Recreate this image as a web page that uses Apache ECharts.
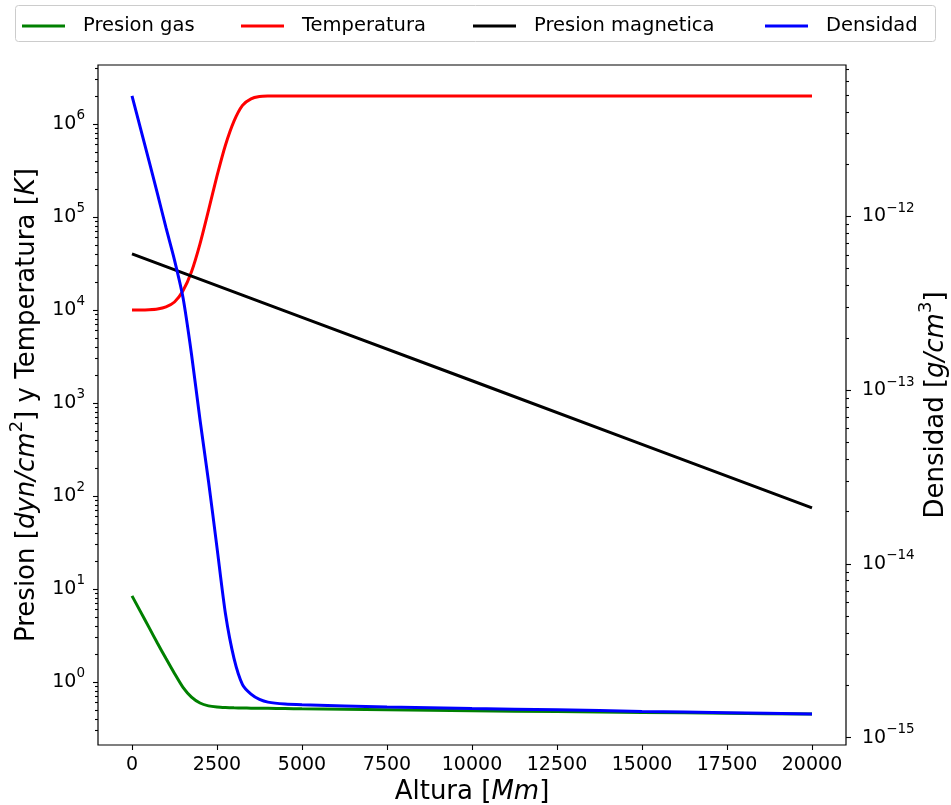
<!DOCTYPE html>
<html>
<head>
<meta charset="utf-8">
<script src="https://cdn.jsdelivr.net/npm/echarts@6/dist/echarts.min.js"></script>
<style>
  html, body { margin: 0; padding: 0; background: #fff; }
  #chart { width: 951px; height: 805px; }
</style>
</head>
<body>
<div id="chart"></div>
<script>
// Altura [Mm] sample points shared by gas pressure, temperature and density
const altura = [0, 250, 500, 750, 1000, 1250, 1500, 1750, 2000, 2250, 2500, 2750, 3000,
  3250, 3500, 3750, 4000, 4500, 5000, 7500, 10000, 12500, 15000, 17500, 20000];

// Presion gas [dyn/cm^2]
const presionGas = [8.4, 5.69, 3.85, 2.60, 1.78, 1.23, 0.871, 0.684, 0.592, 0.552, 0.536, 0.529, 0.525,
  0.523, 0.521, 0.520, 0.519, 0.516, 0.513, 0.501, 0.489, 0.479, 0.469, 0.459, 0.450];

// Temperatura [K]
const temperatura = [10000, 10000, 10050, 10230, 10790, 12160, 16030, 25700, 51300, 117500, 275400, 593000, 1072000,
  1585000, 1862000, 1972000, 1995000, 2000000, 2000000, 2000000, 2000000, 2000000, 2000000, 2000000, 2000000];

// Densidad [g/cm^3]
const densidad = [4.94e-12, 3.21e-12, 2.09e-12, 1.35e-12, 8.61e-13, 5.61e-13, 3.41e-13, 1.61e-13, 6.75e-14, 2.99e-14, 1.24e-14, 5.14e-15, 2.86e-15,
  2.02e-15, 1.78e-15, 1.66e-15, 1.60e-15, 1.56e-15, 1.545e-15, 1.50e-15, 1.47e-15, 1.445e-15, 1.415e-15, 1.39e-15, 1.365e-15];

// Presion magnetica [dyn/cm^2]
const alturaMag = [0, 5000, 10000, 15000, 20000];
const presionMag = [40000, 8300, 1730, 358, 74.3];

// Axis ticks
const xTicks = [0, 2500, 5000, 7500, 10000, 12500, 15000, 17500, 20000];
const leftDecades = [0, 1, 2, 3, 4, 5, 6];
const rightDecades = [-15, -14, -13, -12];

const seriesNames = ['Presion gas', 'Temperatura', 'Presion magnetica', 'Densidad'];
const seriesColors = ['#008000', '#ff0000', '#000000', '#0000ff'];
const seriesSmooth = [0.25, 0.25, false, 0.25];
const legendLeft = [17, 236, 468, 760];

const FONT = 'DejaVu Sans';
const lg = Math.log10;

// log-space extents with 5% padding on each side
function paddedExtent(values) {
  const lo = lg(Math.min.apply(null, values));
  const hi = lg(Math.max.apply(null, values));
  const pad = 0.05 * (hi - lo);
  return [lo - pad, hi + pad];
}
const leftExt = paddedExtent(presionGas.concat(temperatura, presionMag));
const rightExt = paddedExtent(densidad);

// minor ticks at 2..9 x 10^n inside an extent
function minorTicks(ext) {
  const out = [];
  for (let n = Math.floor(ext[0]) - 1; n <= Math.ceil(ext[1]); n++) {
    for (let k = 2; k <= 9; k++) {
      const v = n + lg(k);
      if (v >= ext[0] && v <= ext[1]) out.push(v);
    }
  }
  return out;
}

function powLabel(v) {
  const n = Math.round(v);
  const s = n < 0 ? '\u2212' + (-n) : String(n);
  return '{b|10}{s|' + s + '}';
}

const tickRich = {
  b: { fontFamily: FONT, fontSize: 19, lineHeight: 30, color: '#000' },
  s: { fontFamily: FONT, fontSize: 13.5, lineHeight: 14, verticalAlign: 'top', color: '#000' }
};

const nameRich = {
  r: { fontFamily: FONT, fontSize: 26, lineHeight: 38, color: '#000' },
  i: { fontFamily: FONT, fontSize: 26, lineHeight: 38, fontStyle: 'italic', color: '#000' },
  s: { fontFamily: FONT, fontSize: 18, lineHeight: 18, verticalAlign: 'top', color: '#000' }
};

const tickLine = { color: '#000', width: 1.1 };

function yMajor(ext, position, decades, name, nameGap, margin) {
  return {
    type: 'value', position: position, min: ext[0], max: ext[1],
    splitLine: { show: false },
    axisLine: { show: false, onZero: false },
    axisTick: { show: true, length: 5, lineStyle: tickLine, customValues: decades },
    axisLabel: { show: true, margin: margin, formatter: powLabel, rich: tickRich, customValues: decades },
    name: name, nameLocation: 'middle', nameGap: nameGap, nameRotate: 90, nameMoveOverlap: false,
    nameTextStyle: { fontFamily: FONT, fontSize: 26, color: '#000', rich: nameRich }
  };
}
function yMinor(ext, position) {
  return {
    type: 'value', position: position, min: ext[0], max: ext[1],
    splitLine: { show: false },
    axisLine: { show: false, onZero: false },
    axisLabel: { show: false },
    axisTick: { show: true, length: 3, lineStyle: tickLine, customValues: minorTicks(ext) }
  };
}

const chart = echarts.init(document.getElementById('chart'), null, { renderer: 'canvas' });

const seriesData = [
  altura.map((h, i) => [h, lg(presionGas[i])]),
  altura.map((h, i) => [h, lg(temperatura[i])]),
  alturaMag.map((h, i) => [h, lg(presionMag[i])]),
  altura.map((h, i) => [h, lg(densidad[i])])
];
const seriesAxis = [0, 0, 0, 2];

const option = {
  animation: false,
  backgroundColor: '#fff',
  graphic: [{
    type: 'rect', z: -1,
    shape: { x: 15.5, y: 5.5, width: 920, height: 36, r: 3 },
    style: { fill: '#fff', stroke: '#cccccc', lineWidth: 1 }
  }],
  legend: seriesNames.map((n, i) => ({
    data: [{ name: n, icon: 'rect' }], left: legendLeft[i], top: 11,
    itemWidth: 43, itemHeight: 3,
    itemStyle: { color: seriesColors[i] },
    textStyle: { fontFamily: FONT, fontSize: 19.5, color: '#000', padding: [0, 0, 0, 13] }
  })),
  grid: {
    left: 98, right: 105, top: 65, bottom: 60,
    outerBoundsMode: 'none', containLabel: false,
    show: true, borderColor: '#000', borderWidth: 1.2, backgroundColor: 'transparent'
  },
  xAxis: {
    type: 'value', min: -1000, max: 21000,
    splitLine: { show: false },
    axisLine: { show: false, onZero: false },
    axisTick: { show: true, length: 5, lineStyle: tickLine, customValues: xTicks },
    axisLabel: { fontFamily: FONT, fontSize: 19, color: '#000', margin: 11, customValues: xTicks,
      formatter: v => String(v) },
    name: '{r|Altura [}{i|Mm}{r|]}', nameLocation: 'middle', nameGap: 28, nameMoveOverlap: false,
    nameTextStyle: { fontFamily: FONT, fontSize: 26, color: '#000', rich: nameRich }
  },
  yAxis: [
    yMajor(leftExt, 'left', leftDecades, '{r|Presion [}{i|dyn/cm}{s|2}{r|] y Temperatura [}{i|K}{r|]}', 52, 13),
    yMinor(leftExt, 'left'),
    yMajor(rightExt, 'right', rightDecades, '{r|Densidad [}{i|g/cm}{s|3}{r|]}', 71, 16),
    yMinor(rightExt, 'right')
  ],
  series: seriesNames.map((n, i) => ({
    name: n, type: 'line', yAxisIndex: seriesAxis[i],
    data: seriesData[i],
    showSymbol: false, symbol: 'none',
    smooth: seriesSmooth[i],
    lineStyle: { color: seriesColors[i], width: 3 },
    itemStyle: { color: seriesColors[i] },
    z: 2 + i
  }))
};
chart.setOption(option);
</script>
</body>
</html>
